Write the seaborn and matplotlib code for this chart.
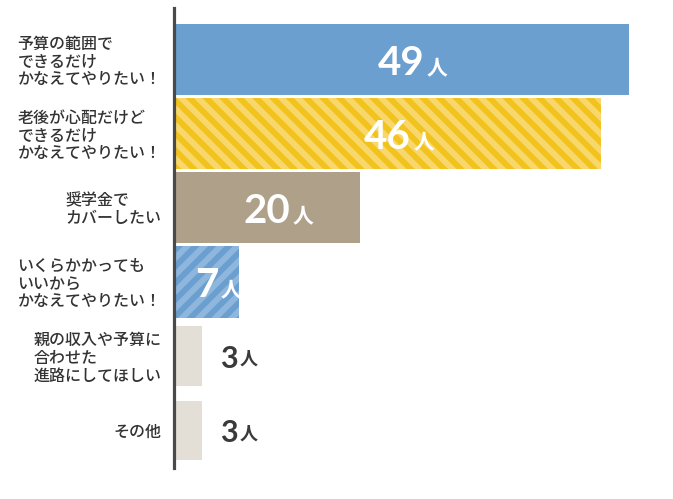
import matplotlib
matplotlib.use("Agg")
import matplotlib.pyplot as plt
import seaborn as sns

# --- データ ---
answers = [
    "予算の範囲で\nできるだけ\nかなえてやりたい！",
    "老後が心配だけど\nできるだけ\nかなえてやりたい！",
    "奨学金で\nカバーしたい",
    "いくらかかっても\nいいから\nかなえてやりたい！",
    "親の収入や予算に\n合わせた\n進路にしてほしい",
    "その他",
]
counts = [49, 46, 20, 7, 3, 3]
unit = "人"

# --- 見た目 ---
bar_colors = ["#6a9fd0", "#f2c31d", "#afa08a", "#6a9fd0", "#e4dfd6", "#e4dfd6"]
stripe_colors = [None, "#f8d76c", None, "#8fb7de", None, None]
hatches = [None, "\\\\", None, "//", None, None]
bar_heights = [0.96, 0.96, 0.96, 0.96, 0.8, 0.8]
inside = [True, True, True, True, False, False]

sns.set_style("white")
plt.rcParams["font.family"] = ["Noto Sans CJK JP", "DejaVu Sans"]
plt.rcParams["hatch.linewidth"] = 4.3

fig = plt.figure(figsize=(6.73, 4.99), dpi=100)
ax = fig.add_axes([174 / 673, 1 - 468 / 499, (660 - 174) / 673, (468 - 8) / 499])

sns.barplot(x=counts, y=answers, hue=answers, palette=bar_colors,
            legend=False, orient="h", width=0.96, saturation=1, ax=ax)

for i, p in enumerate(ax.patches):
    p.set_linewidth(0)
    # 高さ調整（中心は維持）
    c = p.get_y() + p.get_height() / 2
    p.set_height(bar_heights[i])
    p.set_y(c - bar_heights[i] / 2)
    if hatches[i]:
        p.set_hatch(hatches[i])
        p.set_edgecolor(stripe_colors[i])

ax.set_xlim(0, (660 - 174) / (455 / 49))
ax.set_ylim(5.51, -0.695)

for sp in ["top", "right", "bottom"]:
    ax.spines[sp].set_visible(False)
ax.spines["left"].set_color("#4a4a4a")
ax.spines["left"].set_linewidth(2.3)
ax.spines["left"].set_zorder(5)

ax.set_xticks([])
ax.set_xlabel("")
ax.set_ylabel("")
ax.tick_params(axis="y", length=0, pad=9, labelsize=11.5, labelcolor="#333333")
for t in ax.get_yticklabels():
    t.set_multialignment("left")
    t.set_linespacing(1.05)
    t.set_fontweight("medium")

# --- 数値ラベル ---
for i, v in enumerate(counts):
    if inside[i]:
        num = ax.text(v / 2, i, str(v), ha="center", va="center_baseline",
                      fontsize=29, fontweight="bold", family=["Lato", "DejaVu Sans"],
                      color="white")
        col, size = "white", 15
    else:
        num = ax.annotate(str(v), xy=(v, i), xytext=(13, 0), textcoords="offset points",
                          ha="left", va="center_baseline", fontsize=22, fontweight="bold",
                          family=["Lato", "DejaVu Sans"], color="#3a3a3a")
        col, size = "#3a3a3a", 13
    ax.annotate(unit, xy=(1, 0), xycoords=num, xytext=(1.5, 2.5), textcoords="offset points",
                ha="left", va="bottom", fontsize=size, fontweight="bold", color=col)

fig.savefig("out.png", dpi=100)
